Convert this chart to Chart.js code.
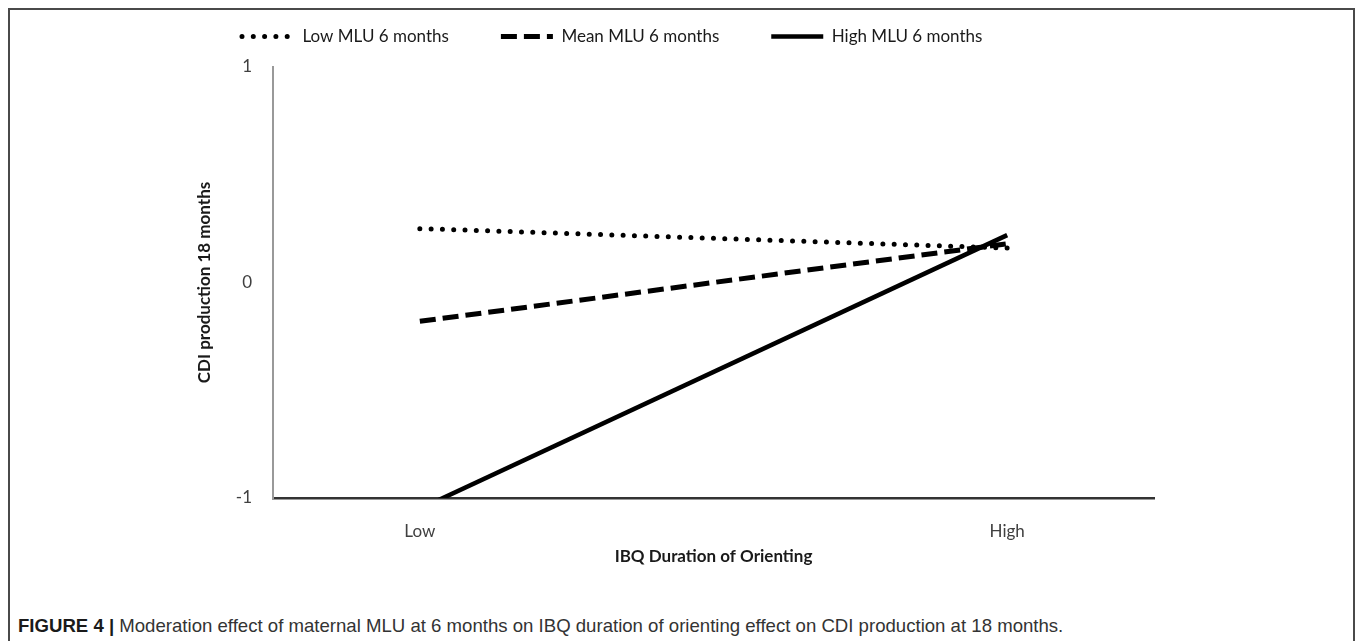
<!DOCTYPE html>
<html>
<head>
<meta charset="utf-8">
<script src="https://cdn.jsdelivr.net/npm/chart.js@4.4.1/dist/chart.umd.min.js"></script>
<style>
  html, body { margin: 0; padding: 0; background: #fff; }
  #frame { position: absolute; left: 8px; top: 8px; width: 1347px; height: 700px;
           border: 2px solid #4a4a4a; box-sizing: border-box; }
  #wrap { position: absolute; left: 0; top: 0; width: 1358px; height: 590px; }
  #caption { position: absolute; left: 18px; top: 615px; white-space: nowrap;
             font-family: "Liberation Sans Narrow", "Liberation Sans", Arial, sans-serif;
             font-size: 18.6px; color: #333; }
  #caption b { color: #1a1a1a; }
</style>
</head>
<body>
<div id="frame"></div>
<div id="wrap"><canvas id="myChart"></canvas></div>
<div id="caption"><b>FIGURE 4 |</b> Moderation effect of maternal MLU at 6 months on IBQ duration of orienting effect on CDI production at 18 months.</div>
<script>
// IBQ duration of orienting levels (x axis)
const levels = ['Low', 'High'];
const seriesNames = ['Low MLU 6 months', 'Mean MLU 6 months', 'High MLU 6 months'];

// CDI production at 18 months
const lowMLU = [0.25, 0.16];
const meanMLU = [-0.18, 0.18];
const highMLU = [-1.05, 0.22];

const yTicks = [-1, 0, 1];

const toPoints = arr => arr.map((v, i) => ({ x: i, y: v }));

const font = 'Lato, "Open Sans", "Liberation Sans", sans-serif';

// legend row is taller than Chart.js makes it, so the plot starts lower
const legendHeight = {
    id: 'legendHeight',
    afterInit(chart) {
        const fit = chart.legend.fit;
        chart.legend.fit = function () {
            fit.call(this);
            this.height = 91;
        };
    }
};

const ctx = document.getElementById('myChart').getContext('2d');
const myChart = new Chart(ctx, {
    type: 'line',
    data: {
        datasets: [{
            label: seriesNames[0],
            data: toPoints(lowMLU),
            borderColor: '#000',
            borderWidth: 5,
            borderDash: [0, 11.3],
            borderCapStyle: 'round',
            pointRadius: 0,
        }, {
            label: seriesNames[1],
            data: toPoints(meanMLU),
            borderColor: '#000',
            borderWidth: 5,
            borderDash: [16, 7],
            borderCapStyle: 'butt',
            pointRadius: 0,
        }, {
            label: seriesNames[2],
            data: toPoints(highMLU),
            borderColor: '#000',
            borderWidth: 4.5,
            pointRadius: 0,
        }]
    },
    plugins: [legendHeight],
    options: {
        responsive: true,
        maintainAspectRatio: false,
        animation: false,
        layout: { padding: { left: 190, right: 204, top: -24, bottom: 12 } },
        plugins: {
            tooltip: { enabled: false },
            legend: {
                position: 'top',
                align: 'start',
                labels: {
                    usePointStyle: true,
                    pointStyle: 'line',
                    pointStyleWidth: 52,
                    padding: 52,
                    color: '#1a1a1a',
                    font: { family: font, size: 17 },
                    generateLabels: chart => {
                        const items = Chart.defaults.plugins.legend.labels.generateLabels(chart);
                        return items.map(item => {
                            const ds = chart.data.datasets[item.datasetIndex];
                            item.lineDash = ds.borderDash || [];
                            item.lineCap = ds.borderCapStyle || 'butt';
                            item.lineWidth = ds.borderWidth;
                            item.strokeStyle = ds.borderColor;
                            return item;
                        });
                    },
                },
            },
        },
        scales: {
            x: {
                type: 'linear',
                min: -0.25,
                max: 1.25,
                afterBuildTicks: scale => { scale.ticks = levels.map((_, i) => ({ value: i })); },
                afterFit: scale => { scale.height = 80; },
                grid: { display: false, drawTicks: false },
                border: { display: true, color: '#333', width: 2.5 },
                ticks: {
                    padding: 23,
                    color: '#404040',
                    font: { family: font, size: 17 },
                    callback: v => levels[v],
                },
                title: {
                    display: true,
                    text: 'IBQ Duration of Orienting',
                    color: '#1a1a1a',
                    font: { family: font, size: 17, weight: 'bold' },
                    padding: { top: 0, bottom: 11 },
                },
            },
            y: {
                min: -1,
                max: 1,
                afterBuildTicks: scale => { scale.ticks = yTicks.map(v => ({ value: v })); },
                afterFit: scale => { scale.width = 83; },
                grid: { display: false, drawTicks: false },
                border: { display: true, color: '#999', width: 2 },
                ticks: {
                    padding: 21,
                    color: '#404040',
                    font: { family: font, size: 17 },
                },
                title: {
                    display: true,
                    text: 'CDI production 18 months',
                    color: '#1a1a1a',
                    font: { family: font, size: 17, weight: 'bold' },
                    padding: { top: 4, bottom: 4 },
                },
            },
        },
    }
});
</script>
</body>
</html>
